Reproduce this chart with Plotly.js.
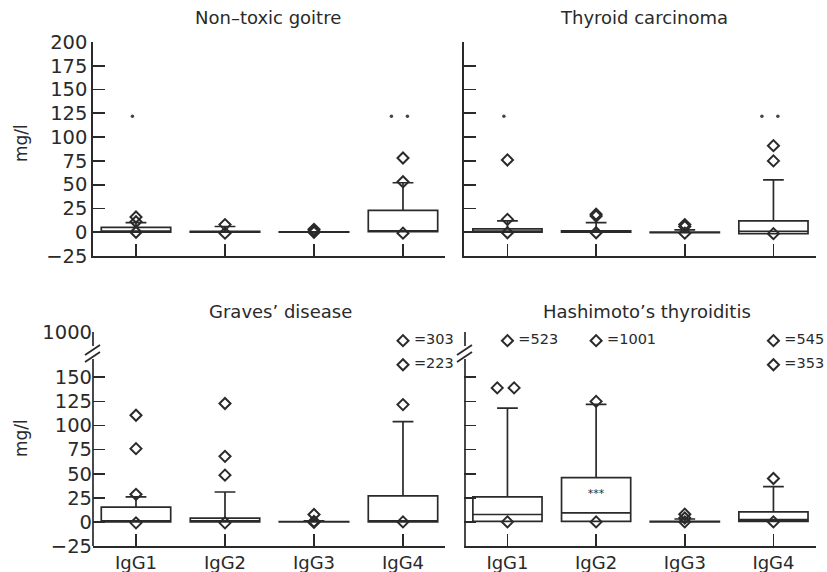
<!DOCTYPE html>
<html>
<head>
<meta charset="utf-8">
<script src="https://cdn.plot.ly/plotly-3.0.1.min.js"></script>
<style>html,body{margin:0;padding:0;background:#fff;} #chart{width:827px;height:572px;}</style>
</head>
<body>
<div id="chart"></div>
<script>
// ---------- data ----------
const categories = ['IgG1', 'IgG2', 'IgG3', 'IgG4'];
const panelTitles = ['Non\u2013toxic goitre', 'Thyroid carcinoma', 'Graves\u2019 disease', 'Hashimoto\u2019s thyroiditis'];

// Non-toxic goitre
const goitreQ1 = [0, 0, 0, 0.5];
const goitreMedian = [0.5, 0.3, 0, 1];
const goitreQ3 = [5, 1, 0.3, 23];
const goitreUpper = [10, 6, 0.5, 52];
const goitreOutliers = [[16, 11, 0], [8, -1], [3, 1, 0], [78, 53, -1]];
const goitreSig = [1, 0, 0, 2];

// Thyroid carcinoma
const carcQ1 = [0, 0, -0.5, -1.5];
const carcMedian = [0.5, 0.5, -0.5, 1];
const carcQ3 = [3.5, 1.5, 0, 12];
const carcUpper = [12, 10, 2.5, 55];
const carcOutliers = [[76, 13.5, -0.5], [19, 17, -0.5], [8, 6, -1], [91, 75, -1.5]];
const carcSig = [1, 0, 0, 2];

// Graves' disease
const gravesQ1 = [0, 0, 0, 0];
const gravesMedian = [0.7, 0.7, 0, 0.7];
const gravesQ3 = [15.3, 4, 0.3, 27];
const gravesUpper = [26, 31, 1, 104];
const gravesOutliers = [[110.6, 76, 28.6, -1], [122.8, 68, 48.5, -1], [7.7, 0.5, -0.5], [121.7, 0]];
const gravesHigh = [[], [], [], [303, 223]];

// Hashimoto's thyroiditis
const hashiQ1 = [0.5, 0.5, 0, 0.5];
const hashiMedian = [7.7, 9.4, 0, 2.4];
const hashiQ3 = [26, 46, 0.5, 10.5];
const hashiUpper = [118, 122, 3, 36.6];
const hashiOutliers = [[139, 139, 0], [125, 0], [8, 4, 0], [45, 0]];
const hashiHigh = [[523], [1001], [], [545, 353]];
const hashiStarCat = [1];
const hashiStarY = [28.6];

const topTicks = [-25, 0, 25, 50, 75, 100, 125, 150, 175, 200];
const topTickText = ['\u221225', '0', '25', '50', '75', '100', '125', '150', '175', '200'];
const bottomTicks = [-25, 0, 25, 50, 75, 100, 125, 150, 197];
const bottomTickText = ['\u221225', '0', '25', '50', '75', '100', '125', '150', '1000'];

// ---------- drawing constants ----------
const INK = '#2a2a2a';
const FONT = 'DejaVu Sans';
const SIG_Y = 122;              // height of significance dots
const HIGH_ROWS = [188, 163];   // positions of off-scale outliers above the break
const W = 827, H = 572;
const px = v => v / W, py = v => 1 - v / H;
const DIAMOND = {symbol: 'diamond-open', size: 8.5, color: INK, line: {width: 2, color: INK}};

const traces = [];
function addPanel(ax, q1, med, q3, up, outl, sig, high) {
  const xa = 'x' + (ax === 1 ? '' : ax), ya = 'y' + (ax === 1 ? '' : ax);
  traces.push({
    type: 'box', xaxis: xa, yaxis: ya,
    x: categories.map((c, i) => i),
    q1: q1, median: med, q3: q3, lowerfence: q1, upperfence: up,
    boxpoints: false, width: 0.78, whiskerwidth: 0.3,
    fillcolor: 'rgba(0,0,0,0)', line: {color: INK, width: 1.7},
    hoverinfo: 'skip', showlegend: false
  });
  const ox = [], oy = [];
  outl.forEach((arr, i) => {
    const seen = {};
    arr.forEach(v => {
      const dup = arr.filter(w => w === v).length;
      if (dup > 1) {
        seen[v] = (seen[v] || 0) + 1;
        ox.push(i + (seen[v] - (dup + 1) / 2) * 0.19 - 0.02);
      } else ox.push(i);
      oy.push(v);
    });
  });
  traces.push({
    type: 'scatter', mode: 'markers', xaxis: xa, yaxis: ya, x: ox, y: oy,
    marker: DIAMOND, cliponaxis: false, showlegend: false, hoverinfo: 'skip'
  });
  if (sig) {
    const sx = [], sy = [];
    sig.forEach((n, i) => {
      for (let k = 0; k < n; k++) { sx.push(i - 0.04 + (k - (n - 1) / 2) * 0.18); sy.push(SIG_Y); }
    });
    traces.push({
      type: 'scatter', mode: 'markers', xaxis: xa, yaxis: ya, x: sx, y: sy,
      marker: {symbol: 'circle', size: 3.5, color: '#444'},
      cliponaxis: false, showlegend: false, hoverinfo: 'skip'
    });
  }
  if (high) {
    const hx = [], hy = [], ht = [];
    high.forEach((arr, i) => arr.forEach((v, r) => { hx.push(i); hy.push(HIGH_ROWS[r]); ht.push(' =' + v); }));
    traces.push({
      type: 'scatter', mode: 'markers+text', xaxis: xa, yaxis: ya, x: hx, y: hy, text: ht,
      textposition: 'middle right', textfont: {family: FONT, size: 14.5, color: INK},
      marker: DIAMOND, cliponaxis: false, showlegend: false, hoverinfo: 'skip'
    });
  }
}
addPanel(1, goitreQ1, goitreMedian, goitreQ3, goitreUpper, goitreOutliers, goitreSig, null);
addPanel(2, carcQ1, carcMedian, carcQ3, carcUpper, carcOutliers, carcSig, null);
addPanel(3, gravesQ1, gravesMedian, gravesQ3, gravesUpper, gravesOutliers, null, gravesHigh);
addPanel(4, hashiQ1, hashiMedian, hashiQ3, hashiUpper, hashiOutliers, null, hashiHigh);
traces.push({
  type: 'scatter', mode: 'text', xaxis: 'x4', yaxis: 'y4', x: hashiStarCat, y: hashiStarY,
  text: hashiStarCat.map(() => '***'), textfont: {family: FONT, size: 11, color: INK},
  showlegend: false, hoverinfo: 'skip'
});

function xAxis(dom, rng, labels, anchor) {
  return {
    domain: dom, range: rng, anchor: anchor, showgrid: false, zeroline: false,
    showline: true, linecolor: INK, linewidth: 1.7,
    tickmode: 'array', tickvals: categories.map((c, i) => i), ticktext: categories,
    showticklabels: labels, ticks: 'inside', ticklen: 12, tickwidth: 1.7, tickcolor: INK,
    tickfont: {family: FONT, size: 18, color: INK}, fixedrange: true
  };
}
function yAxis(dom, rng, vals, text, labels, line, anchor) {
  return {
    domain: dom, range: rng, anchor: anchor, showgrid: false, zeroline: false,
    showline: line, linecolor: INK, linewidth: 1.7,
    tickmode: 'array', tickvals: vals, ticktext: text,
    showticklabels: labels, ticks: 'inside', ticklen: 12, tickwidth: 1.7, tickcolor: INK,
    tickfont: {family: FONT, size: 19.5, color: INK}, fixedrange: true
  };
}
const topDom = [py(256), py(42)], botDom = [py(546), py(332)];
const leftDom = [px(93), px(445)], rightDom = [px(464), px(816)];
const leftRange = [-0.483, 3.472], rightRange = [-0.49, 3.48];

const shapes = [];
// broken y axes on the lower panels
[93, 465].forEach(ax => {
  const L = {color: INK, width: 1.7};
  shapes.push({type: 'line', xref: 'paper', yref: 'paper', x0: px(ax), x1: px(ax), y0: py(332), y1: py(346), line: L});
  shapes.push({type: 'line', xref: 'paper', yref: 'paper', x0: px(ax), x1: px(ax), y0: py(359), y1: py(546), line: L});
  shapes.push({type: 'line', xref: 'paper', yref: 'paper', x0: px(ax - 8), x1: px(ax + 7), y0: py(355), y1: py(345), line: L});
  shapes.push({type: 'line', xref: 'paper', yref: 'paper', x0: px(ax - 8), x1: px(ax + 7), y0: py(362), y1: py(352), line: L});
});

function ann(text, x, y, size, angle) {
  return {text: text, xref: 'paper', yref: 'paper', x: px(x), y: py(y), showarrow: false,
    xanchor: 'center', yanchor: 'middle', textangle: angle || 0,
    font: {family: FONT, size: size, color: INK}};
}
const layout = {
  width: W, height: H, margin: {l: 0, r: 0, t: 0, b: 0},
  paper_bgcolor: '#fff', plot_bgcolor: 'rgba(0,0,0,0)', showlegend: false,
  xaxis: xAxis(leftDom, leftRange, false, 'y'),
  yaxis: yAxis(topDom, [-25, 200], topTicks, topTickText, true, true, 'x'),
  xaxis2: xAxis(rightDom, rightRange, false, 'y2'),
  yaxis2: yAxis(topDom, [-25, 200], topTicks, topTickText, false, true, 'x2'),
  xaxis3: xAxis(leftDom, leftRange, true, 'y3'),
  yaxis3: yAxis(botDom, [-25, 197], bottomTicks, bottomTickText, true, false, 'x3'),
  xaxis4: xAxis(rightDom, rightRange, true, 'y4'),
  yaxis4: yAxis(botDom, [-25, 197], bottomTicks, bottomTickText, false, false, 'x4'),
  shapes: shapes,
  annotations: [
    ann(panelTitles[0], 268, 18, 18),
    ann(panelTitles[1], 644, 18, 18),
    ann(panelTitles[2], 280, 311, 18),
    ann(panelTitles[3], 647, 311, 18),
    ann('mg/l', 21, 143, 17, -90),
    ann('mg/l', 21, 438, 17, -90)
  ]
};
Plotly.newPlot('chart', traces, layout, {staticPlot: true, displayModeBar: false});
</script>
</body>
</html>
